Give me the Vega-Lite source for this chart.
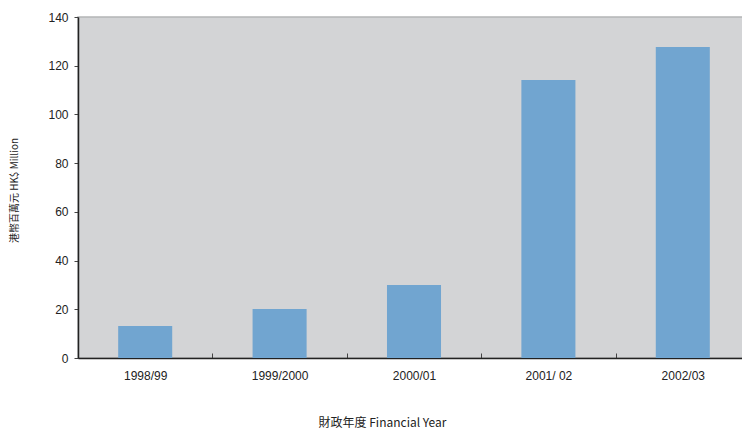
{
  "$schema": "https://vega.github.io/schema/vega-lite/v6.json",
  "width": 672,
  "height": 341,
  "autosize": {"type": "none"},
  "padding": {"left": 78, "top": 17, "right": 0, "bottom": 72},
  "background": "white",
  "config": {
    "view": {"fill": "#d3d4d6", "stroke": "#b4b5b7", "strokeWidth": 1.5},
    "axis": {"domainColor": "#222", "tickColor": "#444", "labelColor": "#222", "titleColor": "#222", "grid": false}
  },
  "data": {
    "values": [
      {"year": "1998/99", "value": 13.1},
      {"year": "1999/2000", "value": 20.1},
      {"year": "2000/01", "value": 30.0},
      {"year": "2001/ 02", "value": 114.1},
      {"year": "2002/03", "value": 127.7}
    ]
  },
  "mark": {"type": "bar", "color": "#71a5d0", "width": {"band": 0.402}},
  "encoding": {
    "x": {
      "field": "year",
      "type": "nominal",
      "sort": null,
      "scale": {"paddingInner": 0, "paddingOuter": 0},
      "axis": {
        "labelAngle": 0,
        "labelFont": "Liberation Sans",
        "labelFontSize": 12,
        "labelPadding": 17,
        "tickBand": "extent",
        "tickSize": -5,
        "domainWidth": 1.5,
        "title": "財政年度 Financial Year",
        "titleFont": "Noto Sans CJK TC",
        "titleFontSize": 12,
        "titleFontWeight": "normal",
        "titleX": 304,
        "titleY": 64,
        "titleBaseline": "middle"
      }
    },
    "y": {
      "field": "value",
      "type": "quantitative",
      "scale": {"domain": [0, 140]},
      "axis": {
        "values": [0, 20, 40, 60, 80, 100, 120, 140],
        "labelFont": "Liberation Sans",
        "labelFontSize": 12,
        "labelPadding": 6,
        "tickSize": 4,
        "domainWidth": 1.5,
        "title": "港幣百萬元 HK$ Million",
        "titleFont": "Noto Sans CJK TC",
        "titleFontSize": 10,
        "titleFontWeight": "normal",
        "titleX": -64,
        "titleY": 173,
        "titleAngle": -90,
        "titleAlign": "center",
        "titleBaseline": "middle"
      }
    }
  }
}
